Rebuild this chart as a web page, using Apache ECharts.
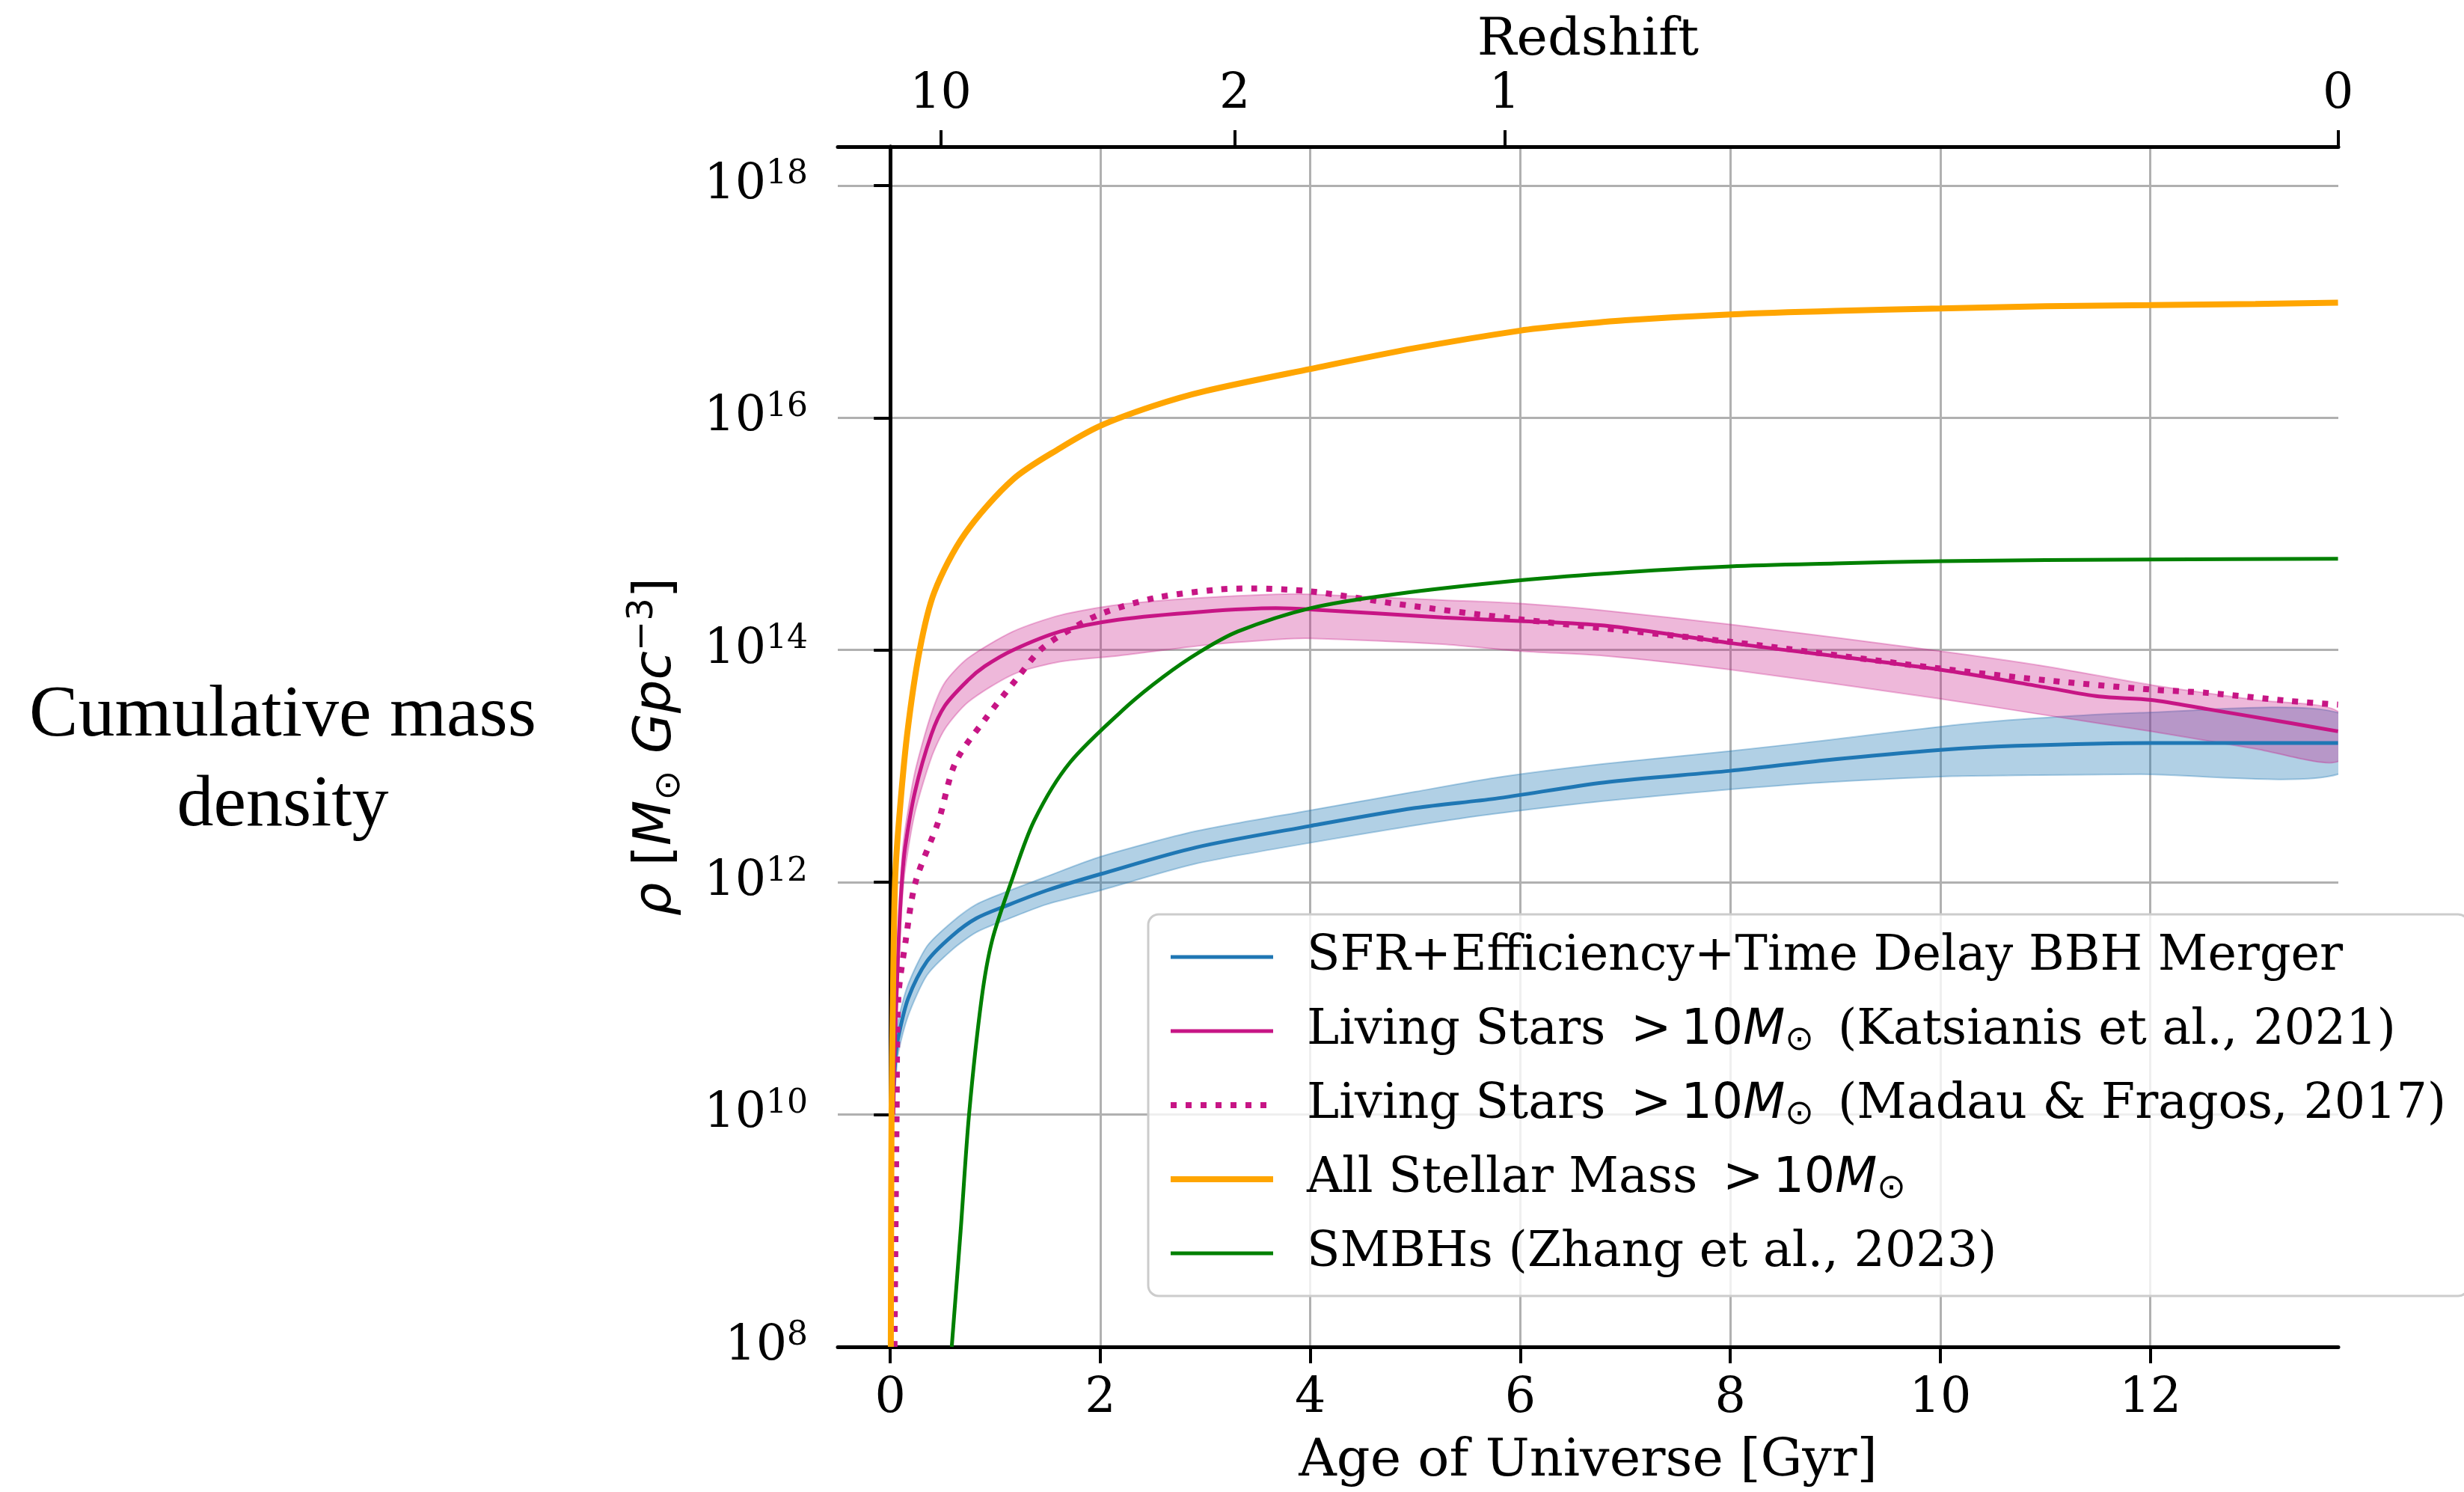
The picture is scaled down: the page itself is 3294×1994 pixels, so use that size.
<!DOCTYPE html>
<html>
<head>
<meta charset="utf-8">
<script src="https://cdn.jsdelivr.net/npm/echarts@6/dist/echarts.min.js"></script>
<style>html,body{margin:0;padding:0;background:#fff;}#c{width:3294px;height:1994px;}</style>
</head>
<body>
<div id="c"></div>
<script>
// ---------- axis ticks / labels ----------
const xTicks = [0, 2, 4, 6, 8, 10, 12];
const zAges = [0.48, 3.28, 5.85, 13.787];
const zLabels = ['10', '2', '1', '0'];

// ---------- series (age in Gyr, log10 of density) ----------
const sfrT   = [0.035, 0.05, 0.075, 0.17, 0.35, 0.59, 0.82, 1.11, 1.49, 2.0, 2.91, 4.0, 5.0, 5.76, 6.8, 8.0, 8.89, 10.0, 10.72, 12.0, 13.787];
const sfrLog = [10.25, 10.5, 10.66, 11.0, 11.32, 11.54, 11.69, 11.80, 11.93, 12.07, 12.30, 12.485, 12.64, 12.72, 12.86, 12.96, 13.05, 13.14, 13.175, 13.20, 13.20];
const sfrBandT = [0.035, 0.075, 0.17, 0.35, 0.59, 0.82, 1.11, 1.49, 2.0, 2.91, 4.0, 5.0, 5.76, 6.8, 8.0, 8.89, 10.0, 10.72, 11.9, 13.787];
const sfrLo    = [10.12, 10.52, 10.85, 11.2, 11.42, 11.57, 11.68, 11.81, 11.93, 12.16, 12.34, 12.49, 12.59, 12.70, 12.80, 12.86, 12.91, 12.92, 12.93, 12.93];
const sfrHi    = [10.38, 10.80, 11.12, 11.45, 11.66, 11.81, 11.92, 12.05, 12.22, 12.44, 12.62, 12.78, 12.90, 13.02, 13.13, 13.22, 13.34, 13.40, 13.46, 13.46];

const katT   = [0.03, 0.04, 0.08, 0.11, 0.14, 0.235, 0.39, 0.52, 0.74, 0.9, 1.17, 1.62, 2.17, 2.98, 3.67, 4.0, 5.26, 6.0, 6.8, 8.0, 10.0, 10.99, 11.51, 12.01, 12.55, 13.34, 13.787];
const katLog = [10.0, 10.5, 11.5, 12.0, 12.29, 12.78, 13.27, 13.52, 13.74, 13.86, 14.0, 14.16, 14.26, 14.33, 14.36, 14.35, 14.28, 14.25, 14.21, 14.06, 13.83, 13.68, 13.60, 13.57, 13.49, 13.37, 13.30];
const katBandT = [0.04, 0.08, 0.11, 0.14, 0.235, 0.39, 0.52, 0.74, 1.17, 1.62, 2.17, 2.98, 3.67, 4.0, 5.26, 6.0, 6.8, 8.0, 10.0, 11.0, 12.0, 13.0, 13.787];
const katLo    = [10.3, 11.3, 11.8, 12.1, 12.6, 13.07, 13.32, 13.55, 13.79, 13.90, 13.95, 14.04, 14.09, 14.10, 14.05, 13.99, 13.95, 13.83, 13.58, 13.44, 13.30, 13.15, 13.04];
const katHi    = [10.7, 11.7, 12.2, 12.45, 12.95, 13.45, 13.72, 13.93, 14.16, 14.30, 14.39, 14.45, 14.48, 14.48, 14.43, 14.40, 14.34, 14.22, 13.99, 13.86, 13.70, 13.57, 13.47];

const madT   = [0.04, 0.06, 0.076, 0.147, 0.24, 0.46, 0.62, 0.90, 1.22, 1.44, 1.76, 2.03, 2.53, 3.12, 3.44, 4.0, 4.8, 5.94, 8.0, 10.0, 11.0, 12.0, 12.55, 13.34, 13.787];
const madLog = [8.0, 10.0, 11.0, 11.5, 12.0, 12.53, 13.03, 13.40, 13.77, 14.01, 14.20, 14.32, 14.45, 14.52, 14.53, 14.505, 14.40, 14.27, 14.07, 13.84, 13.74, 13.66, 13.63, 13.56, 13.53];

const allT   = [0.005, 0.012, 0.025, 0.045, 0.08, 0.16, 0.28, 0.42, 0.71, 1.17, 1.62, 2.0, 2.5, 3.0, 4.0, 5.0, 6.0, 6.5, 7.0, 8.0, 9.0, 10.0, 11.0, 12.0, 13.0, 13.787];
const allLog = [8.0, 10.0, 11.0, 12.0, 12.5, 13.27, 14.0, 14.5, 15.0, 15.47, 15.74, 15.93, 16.10, 16.23, 16.42, 16.60, 16.75, 16.80, 16.84, 16.89, 16.92, 16.94, 16.96, 16.97, 16.98, 16.99];

const smbhT   = [0.585, 0.67, 0.75, 0.87, 0.97, 1.15, 1.37, 1.71, 2.26, 2.6, 2.94, 3.31, 4.0, 4.8, 6.0, 7.0, 8.0, 9.0, 10.0, 12.0, 13.787];
const smbhLog = [8.0, 9.0, 10.0, 11.0, 11.5, 12.0, 12.53, 13.03, 13.52, 13.77, 13.98, 14.16, 14.36, 14.48, 14.60, 14.67, 14.72, 14.745, 14.765, 14.78, 14.785];

const names = [
  'SFR+Efficiency+Time Delay BBH Merger',
  'Living Stars >10M (Katsianis et al., 2021)',
  'Living Stars >10M (Madau & Fragos, 2017)',
  'All Stellar Mass >10M',
  'SMBHs (Zhang et al., 2023)'
];
const legendRich = {};
legendRich[names[0]] = '{g| }{t|SFR+Efficiency+Time Delay BBH Merger}';
legendRich[names[1]] = '{g| }{t|Living Stars }{m|\u2009>\u200910}{mi|M}{sub|\u2299\u2005}{t| (Katsianis et al., 2021)}';
legendRich[names[2]] = '{g| }{t|Living Stars }{m|\u2009>\u200910}{mi|M}{sub|\u2299\u2005}{t| (Madau & Fragos, 2017)}';
legendRich[names[3]] = '{g| }{t|All Stellar Mass }{m|\u2009>\u200910}{mi|M}{sub|\u2299}';
legendRich[names[4]] = '{g| }{t|SMBHs (Zhang et al., 2023)}';

function pairs(ts, logs) { return ts.map((t, i) => [t, Math.pow(10, logs[i])]); }

function band(ts, lo, hi, fill, stroke, z) {
  return {
    type: 'custom', silent: true, z: z, clip: true,
    xAxisIndex: 0, yAxisIndex: 0,
    data: ts.map((t, i) => [t, Math.pow(10, lo[i])]),
    encode: { x: 0, y: 1 },
    renderItem: function (params, api) {
      if (params.dataIndex !== 0) return null;
      const up = [], dn = [];
      for (let i = 0; i < ts.length; i++) up.push(api.coord([ts[i], Math.pow(10, hi[i])]));
      for (let i = ts.length - 1; i >= 0; i--) dn.push(api.coord([ts[i], Math.pow(10, lo[i])]));
      return { type: 'polygon', shape: { points: up.concat(dn), smooth: 0.25 },
               style: { fill: fill, stroke: stroke, lineWidth: 2 } };
    }
  };
}

const BLUE = '#1f77b4', MAG = '#c71585', ORANGE = '#ffa500', GREEN = '#008000';
const SERIF = 'DejaVu Serif', SANS = 'DejaVu Sans';
const lineBase = { type: 'line', symbol: 'none', showSymbol: false, smooth: 0.3 };

const chart = echarts.init(document.getElementById('c'), null, { renderer: 'canvas' });
chart.setOption({
  animation: false,
  backgroundColor: '#fff',
  grid: { left: 1120, right: 168, top: 196, bottom: 192, containLabel: false },
  xAxis: [{
    type: 'value', position: 'bottom', min: -0.5, max: 13.79,
    axisLine: { show: true, onZero: false, lineStyle: { color: '#000', width: 5 } },
    axisTick: { show: true, length: 22, lineStyle: { color: '#000', width: 4 }, customValues: xTicks },
    axisLabel: { customValues: xTicks, fontFamily: SERIF, fontSize: 65, color: '#000', margin: 38 },
    splitLine: { show: true, lineStyle: { color: '#b0b0b0', width: 3 } },
    name: 'Age of Universe [Gyr]', nameLocation: 'middle', nameGap: 119,
    nameTextStyle: { fontFamily: SERIF, fontSize: 70, color: '#000' }
  }, {
    type: 'value', position: 'top', min: -0.5, max: 13.79,
    axisLine: { show: true, onZero: false, lineStyle: { color: '#000', width: 5 } },
    axisTick: { show: true, length: 22, lineStyle: { color: '#000', width: 4 }, customValues: zAges },
    axisLabel: {
      customValues: zAges, fontFamily: SERIF, fontSize: 65, color: '#000', margin: 36,
      formatter: function (v) {
        for (let i = 0; i < zAges.length; i++) if (Math.abs(zAges[i] - v) < 1e-6) return zLabels[i];
        return '';
      }
    },
    splitLine: { show: false },
    name: 'Redshift', nameLocation: 'middle', nameGap: 101,
    nameTextStyle: { fontFamily: SERIF, fontSize: 70, color: '#000' }
  }],
  yAxis: [{
    type: 'log', logBase: 10, min: 1e8, max: Math.pow(10, 18.334), interval: 2,
    axisLine: { show: true, lineStyle: { color: '#000', width: 5 } },
    axisTick: { show: true, length: 22, lineStyle: { color: '#000', width: 4 } },
    axisLabel: {
      margin: 40, showMaxLabel: false, color: '#000',
      formatter: function (v) {
        const e = Math.log10(v);
        if (Math.abs(e - Math.round(e)) > 0.01) return '';
        return '{b|10}{sup|' + Math.round(e) + '}';
      },
      rich: {
        b: { fontFamily: SERIF, fontSize: 65, lineHeight: 72, color: '#000' },
        sup: { fontFamily: SERIF, fontSize: 44, lineHeight: 40, verticalAlign: 'top', color: '#000' }
      }
    },
    splitLine: { show: true, lineStyle: { color: '#b0b0b0', width: 3 } },
    name: '{i|\u03c1}{n| [}{i|M}{sub|\u2299}{n| }{i|Gpc}{sup|\u22123}{n|]}',
    nameLocation: 'middle', nameGap: 200,
    nameTextStyle: {
      color: '#000',
      rich: {
        i: { fontFamily: SANS, fontStyle: 'italic', fontSize: 70, lineHeight: 84, color: '#000' },
        n: { fontFamily: SANS, fontSize: 70, lineHeight: 84, color: '#000' },
        sub: { fontFamily: SANS, fontSize: 48, lineHeight: 40, verticalAlign: 'bottom', color: '#000' },
        sup: { fontFamily: SANS, fontSize: 48, lineHeight: 40, verticalAlign: 'top', color: '#000' }
      }
    }
  }, {
    type: 'log', logBase: 10, position: 'right', min: 1e8, max: Math.pow(10, 18.334),
    axisLine: { show: true, lineStyle: { color: '#000', width: 5 } },
    axisTick: { show: false }, axisLabel: { show: false }, splitLine: { show: false }
  }],
  legend: {
    data: names, orient: 'vertical', left: 1535, top: 1222,
    itemWidth: 137, itemHeight: 20, itemGap: 27,
    padding: [21, 30, 21, 26],
    backgroundColor: 'rgba(255,255,255,0.8)', borderColor: '#cccccc', borderWidth: 3, borderRadius: 14,
    selectedMode: false,
    itemStyle: { opacity: 0 },
    lineStyle: { width: 'inherit' },
    formatter: function (n) { return legendRich[n]; },
    textStyle: {
      color: '#000', fontFamily: SERIF, fontSize: 65, lineHeight: 72,
      rich: {
        g: { width: 40, fontSize: 65, lineHeight: 72 },
        t: { fontFamily: SERIF, fontSize: 65, lineHeight: 72, color: '#000' },
        m: { fontFamily: SANS, fontSize: 65, lineHeight: 72, color: '#000' },
        mi: { fontFamily: SANS, fontStyle: 'italic', fontSize: 65, lineHeight: 72, color: '#000' },
        sub: { fontFamily: SANS, fontSize: 46, lineHeight: 34, verticalAlign: 'bottom', color: '#000' }
      }
    }
  },
  graphic: [{
    type: 'text', x: 378, y: 1017, z: 10,
    style: {
      text: 'Cumulative mass\ndensity', fontFamily: 'Liberation Serif', fontSize: 98, lineHeight: 120,
      align: 'center', verticalAlign: 'middle', fill: '#000'
    }
  }],
  series: [
    band(sfrBandT, sfrLo, sfrHi, 'rgba(31,119,180,0.35)', 'rgba(31,119,180,0.35)', 1),
    Object.assign({}, lineBase, { name: names[0], data: pairs(sfrT, sfrLog), z: 3,
      lineStyle: { color: BLUE, width: 5 }, itemStyle: { color: BLUE } }),
    band(katBandT, katLo, katHi, 'rgba(199,21,133,0.3)', 'rgba(199,21,133,0.3)', 2),
    Object.assign({}, lineBase, { name: names[1], data: pairs(katT, katLog), z: 4,
      lineStyle: { color: MAG, width: 5 }, itemStyle: { color: MAG } }),
    Object.assign({}, lineBase, { name: names[2], data: pairs(madT, madLog), z: 5,
      lineStyle: { color: MAG, width: 8, type: [8, 12] }, itemStyle: { color: MAG } }),
    Object.assign({}, lineBase, { name: names[3], data: pairs(allT, allLog), z: 6,
      lineStyle: { color: ORANGE, width: 8 }, itemStyle: { color: ORANGE } }),
    Object.assign({}, lineBase, { name: names[4], data: pairs(smbhT, smbhLog), z: 7,
      lineStyle: { color: GREEN, width: 5 }, itemStyle: { color: GREEN } })
  ]
});
</script>
</body>
</html>
